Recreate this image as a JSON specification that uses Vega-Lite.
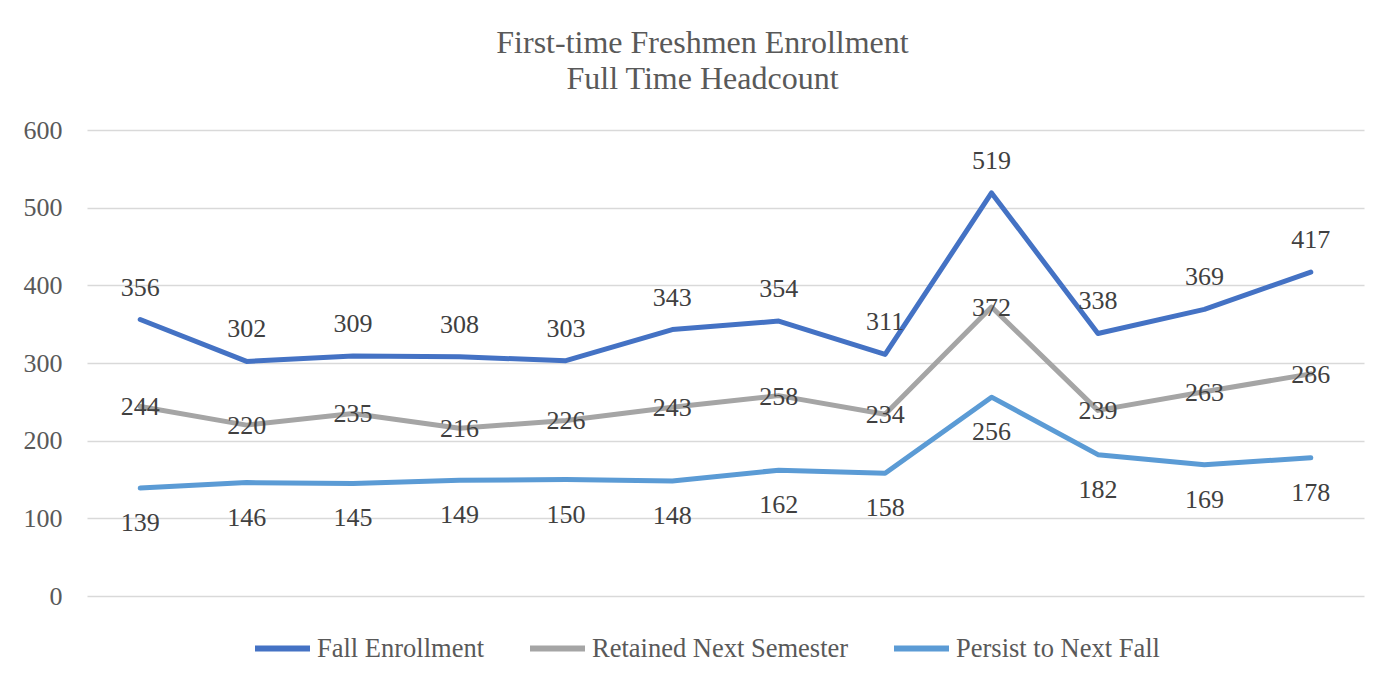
{
  "$schema": "https://vega.github.io/schema/vega-lite/v6.json",
  "autosize": {"type": "none"},
  "width": 1277,
  "height": 466,
  "padding": {"left": 87, "top": 130, "right": 20, "bottom": 89},
  "background": "white",
  "title": {
    "text": ["First-time Freshmen Enrollment", "Full Time Headcount"],
    "font": "Liberation Serif",
    "fontSize": 32,
    "fontWeight": "normal",
    "color": "#595959",
    "lineHeight": 36,
    "anchor": "middle",
    "dx": -23,
    "offset": 21
  },
  "config": {
    "font": "Liberation Serif",
    "view": {"stroke": null}
  },
  "data": {
    "values": [
      {"i": 1, "series": "Fall Enrollment", "value": 356},
      {"i": 2, "series": "Fall Enrollment", "value": 302},
      {"i": 3, "series": "Fall Enrollment", "value": 309},
      {"i": 4, "series": "Fall Enrollment", "value": 308},
      {"i": 5, "series": "Fall Enrollment", "value": 303},
      {"i": 6, "series": "Fall Enrollment", "value": 343},
      {"i": 7, "series": "Fall Enrollment", "value": 354},
      {"i": 8, "series": "Fall Enrollment", "value": 311},
      {"i": 9, "series": "Fall Enrollment", "value": 519},
      {"i": 10, "series": "Fall Enrollment", "value": 338},
      {"i": 11, "series": "Fall Enrollment", "value": 369},
      {"i": 12, "series": "Fall Enrollment", "value": 417},
      {"i": 1, "series": "Retained Next Semester", "value": 244},
      {"i": 2, "series": "Retained Next Semester", "value": 220},
      {"i": 3, "series": "Retained Next Semester", "value": 235},
      {"i": 4, "series": "Retained Next Semester", "value": 216},
      {"i": 5, "series": "Retained Next Semester", "value": 226},
      {"i": 6, "series": "Retained Next Semester", "value": 243},
      {"i": 7, "series": "Retained Next Semester", "value": 258},
      {"i": 8, "series": "Retained Next Semester", "value": 234},
      {"i": 9, "series": "Retained Next Semester", "value": 372},
      {"i": 10, "series": "Retained Next Semester", "value": 239},
      {"i": 11, "series": "Retained Next Semester", "value": 263},
      {"i": 12, "series": "Retained Next Semester", "value": 286},
      {"i": 1, "series": "Persist to Next Fall", "value": 139},
      {"i": 2, "series": "Persist to Next Fall", "value": 146},
      {"i": 3, "series": "Persist to Next Fall", "value": 145},
      {"i": 4, "series": "Persist to Next Fall", "value": 149},
      {"i": 5, "series": "Persist to Next Fall", "value": 150},
      {"i": 6, "series": "Persist to Next Fall", "value": 148},
      {"i": 7, "series": "Persist to Next Fall", "value": 162},
      {"i": 8, "series": "Persist to Next Fall", "value": 158},
      {"i": 9, "series": "Persist to Next Fall", "value": 256},
      {"i": 10, "series": "Persist to Next Fall", "value": 182},
      {"i": 11, "series": "Persist to Next Fall", "value": 169},
      {"i": 12, "series": "Persist to Next Fall", "value": 178}
    ]
  },
  "encoding": {
    "x": {"field": "i", "type": "ordinal", "scale": {"type": "point", "padding": 0.5}, "axis": null},
    "y": {
      "field": "value", "type": "quantitative",
      "scale": {"domain": [0, 600], "nice": false},
      "axis": {
        "title": null, "values": [0, 100, 200, 300, 400, 500, 600],
        "domain": false, "ticks": false, "labelPadding": 25,
        "labelFont": "Liberation Serif", "labelFontSize": 26, "labelColor": "#595959",
        "gridColor": "#D9D9D9", "gridWidth": 1.3
      }
    }
  },
  "layer": [
    {
      "mark": {"type": "line", "strokeWidth": 5, "strokeCap": "round", "strokeJoin": "round"},
      "encoding": {
        "color": {
          "field": "series", "type": "nominal",
          "scale": {"domain": ["Fall Enrollment", "Retained Next Semester", "Persist to Next Fall"], "range": ["#4472C4", "#A5A5A5", "#5B9BD5"]},
          "legend": {
            "title": null, "orient": "none", "legendX": 165, "legendY": 488, "direction": "horizontal",
            "symbolType": "stroke", "symbolSize": 3025, "symbolStrokeWidth": 6,
            "labelFont": "Liberation Serif", "labelFontSize": 26.5, "labelColor": "#595959",
            "labelOffset": 4, "columnPadding": 33, "labelLimit": 500
          }
        }
      }
    },
    {
      "transform": [{"filter": "datum.series === 'Fall Enrollment'"}],
      "mark": {"type": "text", "dy": -32, "fontSize": 26, "color": "#404040", "baseline": "middle"},
      "encoding": {"text": {"field": "value", "type": "quantitative"}}
    },
    {
      "transform": [{"filter": "datum.series === 'Retained Next Semester'"}],
      "mark": {"type": "text", "dy": 1, "fontSize": 26, "color": "#404040", "baseline": "middle"},
      "encoding": {"text": {"field": "value", "type": "quantitative"}}
    },
    {
      "transform": [{"filter": "datum.series === 'Persist to Next Fall'"}],
      "mark": {"type": "text", "dy": 35, "fontSize": 26, "color": "#404040", "baseline": "middle"},
      "encoding": {"text": {"field": "value", "type": "quantitative"}}
    }
  ]
}
